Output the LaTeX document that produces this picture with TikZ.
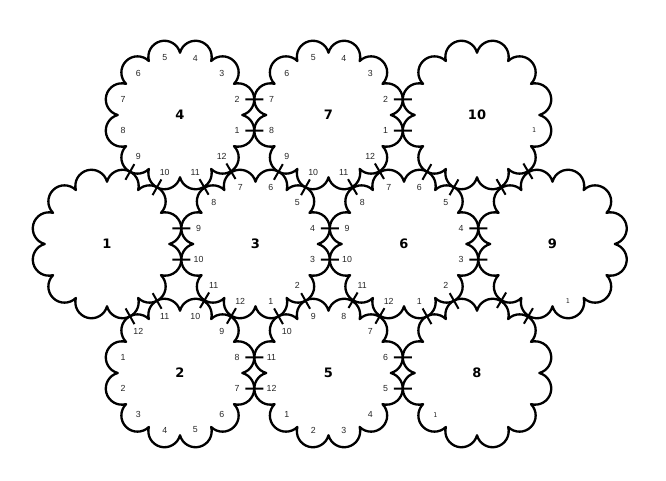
\documentclass[tikz,border=0pt]{standalone}
\usepackage{fontspec}
\newfontfamily\numfont{Liberation Sans}
\newfontfamily\namefont{DejaVu Sans}
\newfontfamily\lonefont{DejaVu Sans Mono}
\usetikzlibrary{calc}

\tikzset{
  cloud line/.style={line width=2.3pt, line join=round},
  tickmark/.style={line width=2pt},
  cloudname/.style={font=\namefont\bfseries\fontsize{13}{13}\selectfont, inner sep=0pt},
  numlabel/.style={font=\numfont\fontsize{8.8}{9}\selectfont, text=black!85, inner sep=0pt},
  lonenum/.style={font=\lonefont\fontsize{6.5}{7}\selectfont, text=black!85, inner sep=0pt},
  pics/cloud/.style={code={
    \draw[cloud line] (0:62.3pt) \foreach \a [evaluate=\a as \s using \a-90] in {15,45,...,345} { arc[start angle=\s, delta angle=180, radius=16.12pt] } -- cycle;
  }},
}

\begin{document}
\begin{tikzpicture}[x=1pt,y=1pt]
\useasboundingbox (0,0) rectangle (666,480);

% the ten clouds
\node[cloudname] (c4) at (180,365) {4};
\node[cloudname] (c7) at (328.5,365) {7};
\node[cloudname] (c10) at (477,365) {10};
\node[cloudname] (c1) at (107,236) {1};
\node[cloudname] (c3) at (255.5,236) {3};
\node[cloudname] (c6) at (404,236) {6};
\node[cloudname] (c9) at (552.5,236) {9};
\node[cloudname] (c2) at (180,107) {2};
\node[cloudname] (c5) at (328.5,107) {5};
\node[cloudname] (c8) at (477,107) {8};

\foreach \c in {c1,c2,c3,c4,c5,c6,c7,c8,c9,c10}
  \pic at (\c.center) {cloud};

% numbers round the clouds
\foreach \c/\b in {c4/-15, c7/-15, c3/-75, c6/-75, c2/165, c5/225}
  \foreach \k in {1,...,12}
    \node[numlabel] (\c-\k) at ($(\c.center)+(\b+30*\k-30:59pt)$) {\k};
\node[lonenum] (c10-1) at ($(c10.center)+(-15:59pt)$) {1};
\node[lonenum] (c9-1) at ($(c9.center)+(-75:59pt)$) {1};
\node[lonenum] (c8-1) at ($(c8.center)+(225:59pt)$) {1};

% ticks where two clouds touch
\foreach \a/\b in {c4/c7, c7/c10, c1/c3, c3/c6, c6/c9, c2/c5, c5/c8,
                   c4/c1, c4/c3, c7/c3, c7/c6, c10/c6, c10/c9,
                   c1/c2, c3/c2, c3/c5, c6/c5, c6/c8, c9/c8} {
  \draw[tickmark] ($(\a.center)!67.1pt!13.4:(\b.center)$) -- ($(\a.center)!84.7pt!10.6:(\b.center)$);
  \draw[tickmark] ($(\a.center)!67.1pt!-13.4:(\b.center)$) -- ($(\a.center)!84.7pt!-10.6:(\b.center)$);
}
\end{tikzpicture}
\end{document}
